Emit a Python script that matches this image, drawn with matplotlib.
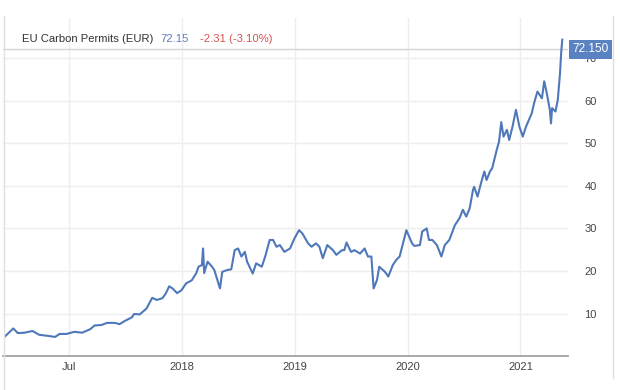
import matplotlib
matplotlib.use("Agg")
import matplotlib.pyplot as plt
from matplotlib.lines import Line2D

plt.rcParams["font.family"] = ["Liberation Sans", "DejaVu Sans"]

# decimal-year positions (axis units of the chart) and prices in EUR
years = [
    2016.44, 2016.51, 2016.55, 2016.61, 2016.68, 2016.74, 2016.83, 2016.88, 2016.92, 2016.98,
    2017.05, 2017.12, 2017.19, 2017.23, 2017.29, 2017.34, 2017.41, 2017.45, 2017.50, 2017.56,
    2017.58, 2017.63, 2017.69, 2017.74, 2017.78, 2017.83, 2017.86, 2017.89, 2017.92, 2017.96,
    2018.00, 2018.04, 2018.09, 2018.13, 2018.15, 2018.18, 2018.19, 2018.20, 2018.23, 2018.27,
    2018.29, 2018.34, 2018.36, 2018.40, 2018.44, 2018.47, 2018.50, 2018.53, 2018.56, 2018.58,
    2018.63, 2018.66, 2018.71, 2018.74, 2018.78, 2018.81, 2018.84, 2018.87, 2018.91, 2018.96,
    2019.00, 2019.04, 2019.07, 2019.12, 2019.15, 2019.19, 2019.22, 2019.25, 2019.29, 2019.34,
    2019.37, 2019.42, 2019.44, 2019.46, 2019.50, 2019.53, 2019.58, 2019.62, 2019.65, 2019.68,
    2019.70, 2019.73, 2019.75, 2019.80, 2019.83, 2019.87, 2019.90, 2019.93, 2019.96, 2019.99,
    2020.04, 2020.06, 2020.11, 2020.13, 2020.17, 2020.19, 2020.22, 2020.26, 2020.30, 2020.33,
    2020.37, 2020.42, 2020.46, 2020.49, 2020.52, 2020.55, 2020.58, 2020.59, 2020.62, 2020.65,
    2020.68, 2020.70, 2020.73, 2020.75, 2020.79, 2020.81, 2020.83, 2020.85, 2020.88, 2020.90,
    2020.93, 2020.96, 2020.99, 2021.02, 2021.05, 2021.10, 2021.12, 2021.15, 2021.19, 2021.21,
    2021.23, 2021.26, 2021.27, 2021.28, 2021.31, 2021.33, 2021.35, 2021.36, 2021.37,
]
prices = [
    4.7, 6.5, 5.4, 5.5, 5.9, 5.0, 4.7, 4.5, 5.2, 5.2,
    5.7, 5.5, 6.3, 7.2, 7.3, 7.8, 7.8, 7.5, 8.3, 9.1,
    9.9, 9.8, 11.2, 13.7, 13.2, 13.6, 14.7, 16.4, 15.9, 14.8,
    15.5, 17.1, 17.8, 19.5, 21.0, 21.4, 25.3, 19.5, 22.2, 21.0,
    20.2, 15.9, 19.8, 20.2, 20.4, 24.9, 25.3, 23.4, 24.5, 22.2,
    19.4, 21.8, 21.0, 23.4, 27.3, 27.3, 25.7, 26.1, 24.5, 25.3,
    27.7, 29.6, 28.8, 26.5, 25.7, 26.5, 25.7, 23.0, 26.1, 24.9,
    23.8, 24.9, 24.9, 26.7, 24.5, 24.9, 24.1, 25.3, 23.4, 23.4,
    15.9, 17.9, 21.0, 19.8, 18.7, 21.4, 22.6, 23.4, 26.5, 29.6,
    26.5, 25.9, 26.1, 29.3, 30.0, 27.3, 27.3, 26.1, 23.4, 26.1,
    27.3, 30.8, 32.4, 34.4, 32.8, 34.7, 39.1, 39.8, 37.5, 40.6,
    43.4, 41.4, 43.4, 44.2, 48.5, 50.4, 55.0, 51.6, 53.2, 50.8,
    54.0, 57.9, 54.0, 51.6, 54.0, 57.1, 59.4, 62.2, 60.6, 64.6,
    62.2, 57.9, 54.7, 58.3, 57.5, 60.2, 66.5, 71.2, 74.4,
]

tick_pos = [2017.0, 2018.0, 2019.0, 2020.0, 2021.0]
tick_labels = ["Jul", "2018", "2019", "2020", "2021"]
y_ticks = [10, 20, 30, 40, 50, 60, 70]

title = "EU Carbon Permits (EUR)"
last_price = 72.15
change_text = "-2.31 (-3.10%)"

line_color = "#4f78bb"
grid_color = "#eeeeee"

fig = plt.figure(figsize=(6.2, 3.9), dpi=100)
fig.patch.set_facecolor("white")
ax = fig.add_axes([0.005, 0.087, 0.911, 0.867])

ax.plot(years, prices, color=line_color, lw=1.5, zorder=3)
ax.axhline(last_price, color="#d4d4d4", lw=1.0, zorder=2)

ax.set_xlim(2016.42, 2021.42)
ax.set_ylim(0, 79.5)

ax.set_xticks(tick_pos)
ax.set_xticklabels(tick_labels)
ax.set_yticks(y_ticks)
ax.yaxis.tick_right()
ax.tick_params(axis="both", length=0, labelsize=8, labelcolor="#444444")
ax.tick_params(axis="y", pad=12)
ax.tick_params(axis="x", pad=4)
ax.grid(True, color=grid_color, lw=1.0, zorder=0)

for side in ["top", "left", "right"]:
    ax.spines[side].set_visible(False)
ax.spines["bottom"].set_color("#999999")
ax.spines["bottom"].set_linewidth(1.2)

# price tag at the right
ax.annotate(
    f"{last_price:.3f}", xy=(1.0, last_price), xycoords=("axes fraction", "data"),
    xytext=(3, 0), textcoords="offset points", ha="left", va="center",
    fontsize=8.5, color="white", zorder=10, annotation_clip=False,
    bbox=dict(boxstyle="square,pad=0.3", fc="#5a82c2", ec="none"),
)

# header
fig.text(22 / 620, 1 - 39 / 390, title, fontsize=8.1, color="#333333", va="center")
fig.text(160 / 620, 1 - 39 / 390, f"{last_price:.2f}", fontsize=8.1, color="#5b7fc0", va="center")
fig.text(200 / 620, 1 - 39 / 390, change_text, fontsize=8.1, color="#d9534f", va="center")

# outer frame lines
fig.add_artist(Line2D([4 / 620, 4 / 620], [0, 0.96], color="#e0e0e0", lw=1.0))
fig.add_artist(Line2D([613 / 620, 613 / 620], [0.03, 0.96], color="#e0e0e0", lw=1.0))

fig.savefig("out.png", dpi=100, facecolor="white")
